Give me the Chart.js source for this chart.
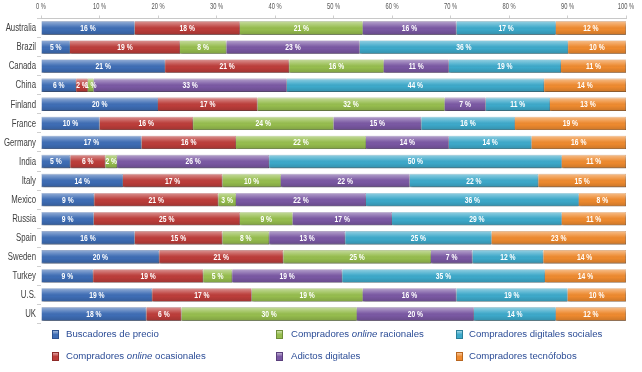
<!DOCTYPE html>
<html><head><meta charset="utf-8">
<script src="https://cdn.jsdelivr.net/npm/chart.js@4.4.0/dist/chart.umd.min.js"></script>
<style>
html,body{margin:0;padding:0;background:#fff;}
#wrap{position:relative;width:642px;height:372px;overflow:hidden;}
#c{position:absolute;left:0;top:0;}
.leg{position:absolute;font-family:'Liberation Sans',Arial,sans-serif;font-size:9.6px;color:#2B4C96;white-space:nowrap;line-height:12px;}
.sw{position:absolute;width:5px;height:7px;}
</style></head><body>
<div id="wrap"><canvas id="c" width="642" height="372"></canvas><div id="legend"></div></div>
<script>
const categories = ['Australia','Brazil','Canada','China','Finland','France','Germany','India','Italy','Mexico','Russia','Spain','Sweden','Turkey','U.S.','UK'];
const seriesNames = ['Buscadores de precio','Compradores online ocasionales','Compradores online racionales','Adictos digitales','Compradores digitales sociales','Compradores tecnófobos'];
const buscadores  = [16, 5,21, 6,20,10,17, 5,14, 9, 9,16,20, 9,19,18];
const ocasionales = [18,19,21, 2,17,16,16, 6,17,21,25,15,21,19,17, 6];
const racionales  = [21, 8,16, 1,32,24,22, 2,10, 3, 9, 8,25, 5,19,30];
const adictos     = [16,23,11,33, 7,15,14,26,22,22,17,13, 7,19,16,20];
const sociales    = [17,36,19,44,11,16,14,50,22,36,29,25,12,35,19,14];
const tecnofobos  = [12,10,11,14,13,19,16,11,15, 8,11,23,14,14,10,12];
const xTickLabels = ['0 %','10 %','20 %','30 %','40 %','50 %','60 %','70 %','80 %','90 %','100 %'];

const colors  = ['#3E6DB5','#BC3D3A','#96BD4E','#7A58A3','#3DA9CA','#EE8A2F'];
const borders = ['#2D5290','#8E2B29','#708F38','#5A3F7C','#2A7F99','#B8661F'];
const rawSeries = [buscadores, ocasionales, racionales, adictos, sociales, tecnofobos];
const totals = categories.map((_, i) => rawSeries.reduce((s, a) => s + a[i], 0));
const FAM = "'Liberation Sans',Arial,sans-serif";

function condText(c, text, x, y, sx) {
  c.save(); c.translate(x, y); c.scale(sx, 1); c.fillText(text, 0, 0); c.restore();
}

const gloss = {
  id: 'gloss',
  beforeDatasetDraw(chart) {
    const c = chart.ctx; c.save();
    c.shadowColor = 'rgba(0,0,0,0.35)'; c.shadowBlur = 2; c.shadowOffsetX = 1; c.shadowOffsetY = 2;
  },
  afterDatasetDraw(chart, args) {
    const c = chart.ctx; c.restore(); c.save();
    args.meta.data.forEach(el => {
      const p = el.getProps(['x','y','base','height'], true);
      const top = p.y - p.height / 2;
      const g = c.createLinearGradient(0, top, 0, top + p.height);
      g.addColorStop(0, 'rgba(255,255,255,0.45)');
      g.addColorStop(0.4, 'rgba(255,255,255,0.08)');
      g.addColorStop(0.6, 'rgba(0,0,0,0)');
      g.addColorStop(1, 'rgba(0,0,0,0.15)');
      c.fillStyle = g;
      c.fillRect(Math.min(p.base, p.x), top, Math.abs(p.x - p.base), p.height);
    });
    c.restore();
  }
};

const textLayer = {
  id: 'textLayer',
  afterDatasetsDraw(chart) {
    const c = chart.ctx; c.save();
    c.font = 'bold 9px ' + FAM;
    c.fillStyle = '#ffffff'; c.textAlign = 'center'; c.textBaseline = 'middle';
    chart.data.datasets.forEach((ds, k) => {
      chart.getDatasetMeta(k).data.forEach((el, i) => {
        const p = el.getProps(['x','y','base'], true);
        condText(c, ds.raw[i] + ' %', (p.x + p.base) / 2, p.y + 0.5, 0.75);
      });
    });
    const ys = chart.scales.y;
    c.font = '10px ' + FAM; c.fillStyle = '#404040'; c.textAlign = 'right';
    categories.forEach((cat, i) => condText(c, cat, 36, ys.getPixelForValue(i) + 0.5, 0.78));
    const xs = chart.scales.x;
    c.font = '8.5px ' + FAM; c.fillStyle = '#555555'; c.textAlign = 'center';
    xTickLabels.forEach((t, i) => condText(c, t, xs.getPixelForValue(i * 10), 6.5, 0.68));
    c.restore();
  }
};

new Chart(document.getElementById('c'), {
  type: 'bar',
  data: {
    labels: categories,
    datasets: rawSeries.map((arr, k) => ({
      label: seriesNames[k],
      data: arr.map((v, i) => v * 100 / totals[i]),
      raw: arr,
      backgroundColor: colors[k],
      borderColor: borders[k],
      borderWidth: 0.6,
      barPercentage: 0.7,
      categoryPercentage: 1
    }))
  },
  options: {
    indexAxis: 'y', responsive: false, animation: false,
    layout: { padding: { top: 0, right: 16, bottom: 48.5, left: 0 } },
    plugins: { legend: { display: false }, tooltip: { enabled: false } },
    scales: {
      x: {
        position: 'top', stacked: true, min: 0, max: 100,
        ticks: { stepSize: 10, display: false },
        grid: { drawOnChartArea: false, tickLength: 3, color: '#cfcfcf' },
        border: { color: '#c8c8c8' },
        afterFit(s) { s.height = 18.5; }
      },
      y: {
        stacked: true,
        ticks: { display: false },
        grid: { drawOnChartArea: false, tickLength: 4, offset: true, color: '#cfcfcf' },
        border: { display: false },
        afterFit(s) { s.width = 41; }
      }
    }
  },
  plugins: [gloss, textLayer]
});

const colX = [52, 276, 456], textX = [66, 291, 469], rowY = [334, 356];
const leg = document.getElementById('legend');
seriesNames.forEach((name, k) => {
  const col = Math.floor(k / 2), row = k % 2;
  const sw = document.createElement('div');
  sw.className = 'sw';
  sw.style.left = colX[col] + 'px'; sw.style.top = (rowY[row] - 4) + 'px';
  sw.style.background = 'linear-gradient(to bottom, rgba(255,255,255,0.5), rgba(255,255,255,0) 50%), ' + colors[k];
  sw.style.border = '0.5px solid ' + borders[k];
  leg.appendChild(sw);
  const t = document.createElement('div');
  t.className = 'leg';
  t.style.left = textX[col] + 'px'; t.style.top = (rowY[row] - 6) + 'px';
  t.innerHTML = name.replace('online', '<i>online</i>');
  leg.appendChild(t);
});
</script>
</body></html>
